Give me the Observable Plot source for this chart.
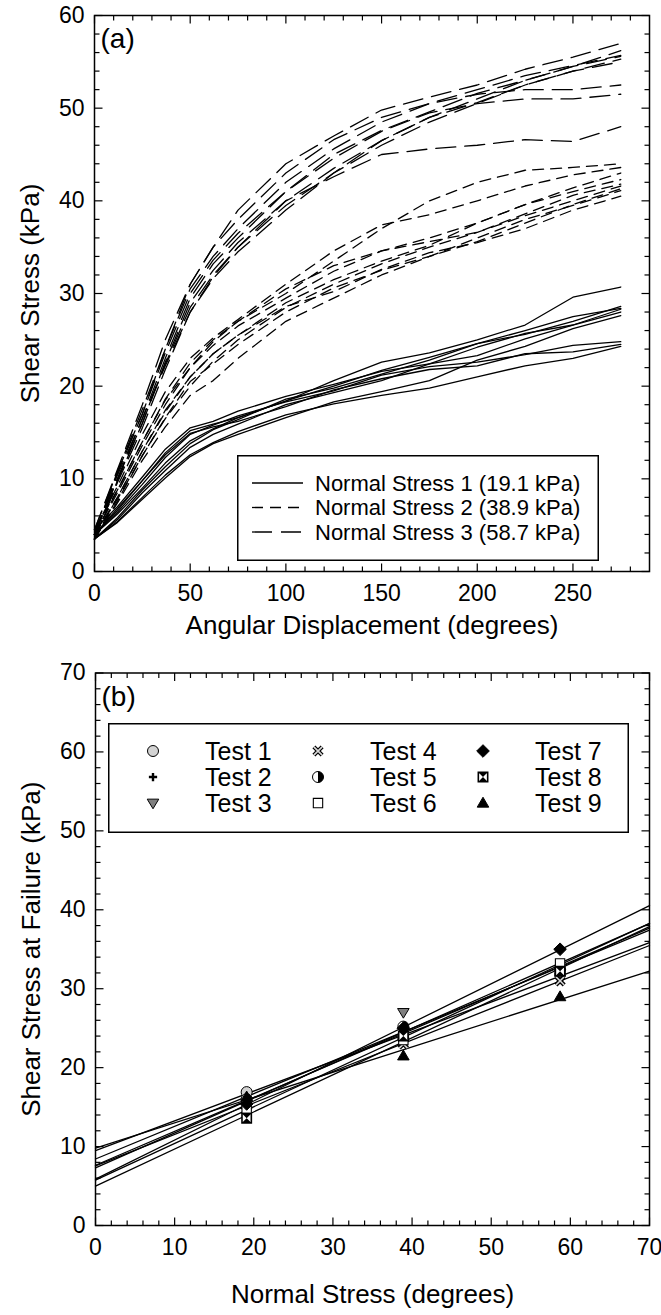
<!DOCTYPE html>
<html><head><meta charset="utf-8">
<script src="https://cdn.jsdelivr.net/npm/d3@7"></script>
<script src="https://cdn.jsdelivr.net/npm/@observablehq/plot@0.6"></script>
<style>
body{margin:0;background:#fff;}
#wrap{position:relative;width:661px;height:1315px;font-family:"Liberation Sans",Arial,sans-serif;overflow:hidden;}
#wrap svg.plot{display:block;}
.ov{position:absolute;}
</style></head><body><div id="wrap"></div>
<script>
// ---------- Panel (a) data ----------
const angle = [0, 12, 25, 37, 50, 62, 75, 100, 125, 150, 175, 200, 225, 250, 275];
const ns1Label = "Normal Stress 1 (19.1 kPa)";
const ns2Label = "Normal Stress 2 (38.9 kPa)";
const ns3Label = "Normal Stress 3 (58.7 kPa)";
const ns1 = [
  [4.0, 6.8, 9.8, 12.8, 15.2, 15.9, 16.6, 18.4, 20.6, 22.6, 23.6, 25.0, 26.6, 29.6, 30.7],
  [3.5, 5.8, 8.8, 11.3, 13.8, 15.3, 16.4, 18.6, 19.8, 21.3, 22.8, 24.6, 25.6, 27.0, 28.6],
  [4.5, 7.0, 10.2, 13.2, 15.5, 16.2, 17.3, 18.9, 20.2, 21.6, 22.4, 23.3, 25.1, 26.6, 28.3],
  [3.5, 5.6, 8.5, 10.9, 13.4, 14.8, 15.9, 18.0, 19.3, 20.6, 22.4, 24.2, 25.7, 26.6, 28.0],
  [4.0, 6.4, 9.4, 12.3, 14.8, 15.8, 16.8, 18.3, 19.5, 21.2, 22.1, 22.6, 23.4, 24.4, 24.8],
  [3.5, 5.4, 8.0, 10.4, 12.6, 13.9, 15.1, 16.9, 18.1, 19.0, 19.8, 21.0, 22.2, 23.0, 24.3],
  [4.0, 6.6, 9.8, 12.6, 14.9, 15.6, 16.2, 17.8, 19.6, 20.8, 21.8, 22.2, 23.5, 23.7, 24.5],
  [3.5, 5.3, 7.8, 10.1, 12.4, 13.8, 14.8, 16.6, 18.3, 19.4, 20.6, 22.8, 24.3, 26.2, 27.6],
  [4.0, 6.2, 9.0, 11.7, 14.1, 15.4, 16.6, 18.4, 20.0, 21.7, 23.1, 24.6, 26.0, 27.5, 28.4]
];
const ns2 = [
  [4.0, 8.8, 14.0, 18.5, 22.0, 24.8, 27.0, 30.0, 33.5, 37.0, 40.0, 42.0, 43.3, 43.6, 44.0],
  [4.5, 9.2, 14.8, 19.4, 23.0, 25.2, 27.2, 31.0, 34.6, 37.4, 38.5, 40.0, 41.6, 42.8, 43.6],
  [3.5, 8.0, 13.0, 17.4, 21.0, 23.5, 25.5, 29.0, 31.5, 33.5, 35.2, 37.6, 39.6, 41.4, 43.0],
  [4.0, 8.5, 13.6, 18.0, 22.0, 24.4, 26.5, 29.5, 32.4, 34.6, 35.6, 36.6, 38.6, 40.6, 41.8],
  [4.0, 7.8, 12.5, 16.5, 20.0, 22.7, 25.0, 28.5, 31.0, 33.2, 35.0, 36.6, 38.4, 40.0, 41.6],
  [3.5, 7.4, 12.0, 15.6, 19.0, 20.6, 23.0, 27.0, 29.5, 32.0, 34.0, 36.0, 38.0, 39.5, 41.1],
  [4.0, 8.0, 13.0, 17.2, 21.0, 23.5, 25.5, 28.6, 30.2, 32.6, 34.4, 35.5, 37.0, 39.0, 40.5],
  [4.5, 8.8, 14.0, 18.6, 22.5, 25.0, 27.0, 30.5, 33.0, 34.6, 36.0, 37.6, 39.6, 41.0, 42.3],
  [3.5, 7.6, 12.5, 16.6, 20.5, 22.4, 24.5, 28.0, 30.6, 32.5, 34.0, 35.6, 37.6, 39.6, 41.3]
];
const ns3 = [
  [4.5, 11.0, 18.0, 25.0, 31.0, 35.0, 39.0, 44.0, 47.0, 49.8, 51.2, 52.5, 54.2, 55.5, 57.0],
  [4.0, 10.6, 17.0, 23.6, 30.0, 33.6, 36.5, 41.0, 45.0, 47.6, 49.6, 51.6, 53.0, 54.5, 56.2],
  [4.0, 10.8, 17.5, 24.0, 30.5, 34.0, 37.0, 42.0, 45.6, 48.5, 50.5, 52.0, 53.5, 54.6, 55.7],
  [3.5, 9.8, 16.0, 22.6, 29.0, 32.5, 35.5, 40.0, 43.5, 46.5, 49.0, 50.6, 52.5, 54.0, 55.3],
  [4.0, 10.0, 16.5, 22.2, 28.0, 31.8, 35.0, 39.5, 43.0, 46.0, 48.5, 50.5, 52.5, 54.0, 55.0],
  [4.5, 10.8, 17.0, 24.0, 31.0, 35.0, 38.0, 43.0, 46.6, 49.0, 50.5, 51.5, 52.0, 52.0, 52.5],
  [4.0, 10.4, 16.5, 23.0, 29.5, 33.2, 36.0, 41.0, 44.6, 47.5, 49.5, 50.5, 51.0, 51.0, 51.5],
  [4.0, 10.0, 16.0, 22.4, 28.5, 32.0, 35.0, 40.0, 42.6, 45.0, 45.6, 46.0, 46.6, 46.4, 48.0],
  [3.5, 9.6, 15.5, 21.8, 28.0, 31.6, 34.5, 39.0, 43.0, 46.5, 49.0, 51.0, 53.0, 54.5, 55.6]
];

// ---------- Panel (b) data ----------
const normalStress = [19.1, 38.9, 58.7];
const testNames = ["Test 1","Test 2","Test 3","Test 4","Test 5","Test 6","Test 7","Test 8","Test 9"];
const failureStress = [
  [16.9, 23.7, 31.8],
  [15.5, 25.0, 32.5],
  [14.5, 27.0, 32.0],
  [15.2, 23.0, 31.0],
  [16.0, 25.2, 32.4],
  [14.8, 23.5, 33.2],
  [15.4, 25.0, 35.0],
  [13.6, 24.0, 32.2],
  [16.3, 21.5, 29.0]
];
const fitRange = [0, 70];

// ---------- helpers ----------
const FONT = '"Liberation Sans", Arial, sans-serif';
function rng(a, b, s) { const r = []; for (let v = a; v <= b + 1e-9; v += s) r.push(+v.toFixed(6)); return r; }
const tickSym = (dx, dy) => ({draw(ctx) { ctx.moveTo(0, 0); ctx.lineTo(dx, dy); }});
function frameTicks(xMaj, xMin, yMaj, yMin) {
  const M = 8, m = 5, o = {stroke: "black", fill: "none", strokeWidth: 1.2};
  return [
    Plot.dot(xMaj, {x: d => d, frameAnchor: "bottom", symbol: tickSym(0, -M), ...o}),
    Plot.dot(xMin, {x: d => d, frameAnchor: "bottom", symbol: tickSym(0, -m), ...o}),
    Plot.dot(xMaj, {x: d => d, frameAnchor: "top", symbol: tickSym(0, M), ...o}),
    Plot.dot(xMin, {x: d => d, frameAnchor: "top", symbol: tickSym(0, m), ...o}),
    Plot.dot(yMaj, {y: d => d, frameAnchor: "left", symbol: tickSym(M, 0), ...o}),
    Plot.dot(yMin, {y: d => d, frameAnchor: "left", symbol: tickSym(m, 0), ...o}),
    Plot.dot(yMaj, {y: d => d, frameAnchor: "right", symbol: tickSym(-M, 0), ...o}),
    Plot.dot(yMin, {y: d => d, frameAnchor: "right", symbol: tickSym(-m, 0), ...o})
  ];
}
const wrap = document.getElementById("wrap");
const TICK_FS = "23px", TITLE_FS = 26;

// ---------- Panel (a) ----------
function curves(set, group) {
  const out = [];
  set.forEach((vals, i) => vals.forEach((v, j) => out.push({group, id: group + i, x: angle[j], y: v})));
  return out;
}
const A_W = 661, A_H = 655;
const ax = {domain: [0, 290], maj: rng(0, 250, 50)};
const ay = {domain: [0, 60], maj: rng(0, 60, 10)};
const axMin = rng(0, 280, 10).filter(v => v % 50 !== 0);
const ayMin = rng(0, 60, 2).filter(v => v % 10 !== 0);
const lineOpt = {x: "x", y: "y", z: "id", stroke: "black", strokeWidth: 1.3};

const plotA = Plot.plot({
  width: A_W, height: A_H,
  marginTop: 15, marginBottom: 84, marginLeft: 94, marginRight: 12,
  style: {fontFamily: FONT, fontSize: TICK_FS, color: "black", background: "white"},
  x: {domain: ax.domain, ticks: ax.maj, tickSize: 0, tickPadding: 13, label: null},
  y: {domain: ay.domain, ticks: ay.maj, tickSize: 0, tickPadding: 10, label: null},
  marks: [
    Plot.line(curves(ns1, "a"), {...lineOpt}),
    Plot.line(curves(ns2, "b"), {...lineOpt, strokeDasharray: "11,7"}),
    Plot.line(curves(ns3, "c"), {...lineOpt, strokeDasharray: "20,9"}),
    ...frameTicks(ax.maj, axMin, ay.maj, ayMin),
    Plot.frame({stroke: "black", strokeWidth: 1.5}),
    Plot.text(["(a)"], {frameAnchor: "top-left", text: d => d, dx: 6, dy: 24, textAnchor: "start", lineAnchor: "middle", fontSize: 28}),
    Plot.text(["Angular Displacement (degrees)"], {frameAnchor: "bottom", text: d => d, dy: 54, textAnchor: "middle", lineAnchor: "middle", fontSize: TITLE_FS}),
    Plot.text(["Shear Stress (kPa)"], {frameAnchor: "left", text: d => d, dx: -64, rotate: -90, textAnchor: "middle", lineAnchor: "middle", fontSize: TITLE_FS})
  ]
});
wrap.appendChild(plotA);

// legend (a)
(function () {
  const L = {x: 237, y: 455, w: 362, h: 106};
  const svg = d3.select(wrap).append("svg").attr("class", "ov")
    .style("left", L.x + "px").style("top", L.y + "px")
    .attr("width", L.w).attr("height", L.h);
  svg.append("rect").attr("x", 0.75).attr("y", 0.75).attr("width", L.w - 1.5).attr("height", L.h - 1.5)
    .attr("fill", "white").attr("stroke", "black").attr("stroke-width", 1.5);
  const items = [[ns1Label, null], [ns2Label, "11,7"], [ns3Label, "20,9"]];
  items.forEach(([t, dash], i) => {
    const cy = 28 + i * 24.5;
    svg.append("line").attr("x1", 15).attr("x2", 66).attr("y1", cy).attr("y2", cy)
      .attr("stroke", "black").attr("stroke-width", 1.3).attr("stroke-dasharray", dash);
    svg.append("text").attr("x", 78).attr("y", cy).attr("dy", "0.35em")
      .attr("font-family", FONT).attr("font-size", 22).text(t);
  });
})();

// ---------- Panel (b) ----------
const B_H = 660;
const bx = {domain: [0, 70], maj: rng(0, 70, 10)};
const by = {domain: [0, 70], maj: rng(0, 70, 10)};
const bxMin = rng(0, 70, 2).filter(v => v % 10 !== 0);
const byMin = rng(0, 70, 2).filter(v => v % 10 !== 0);

const pts = [];
failureStress.forEach((vals, t) => vals.forEach((v, j) => pts.push({test: t, x: normalStress[j], y: v})));
const fits = [];
failureStress.forEach((vals, t) => {
  const mx = d3.mean(normalStress), my = d3.mean(vals);
  const b = d3.sum(normalStress, (x, j) => (x - mx) * (vals[j] - my)) / d3.sum(normalStress, x => (x - mx) ** 2);
  const a = my - b * mx;
  fitRange.forEach(x => fits.push({test: t, x, y: a + b * x}));
});

// symbols
const triDown = {draw(c, s) { const r = Math.sqrt(s / Math.PI); c.moveTo(-r * 1.05, -r * 0.7); c.lineTo(r * 1.05, -r * 0.7); c.lineTo(0, r * 1.05); c.closePath(); }};
const triUp = {draw(c, s) { const r = Math.sqrt(s / Math.PI); c.moveTo(-r * 1.05, r * 0.75); c.lineTo(r * 1.05, r * 0.75); c.lineTo(0, -r * 1.05); c.closePath(); }};
const squareS = {draw(c, s) { const r = Math.sqrt(s / Math.PI) * 0.85; c.rect(-r, -r, 2 * r, 2 * r); }};
const hourglass = {draw(c, s) { const r = Math.sqrt(s / Math.PI) * 0.85; c.moveTo(-r, -r); c.lineTo(r, -r); c.lineTo(0, 0); c.closePath(); c.moveTo(-r, r); c.lineTo(r, r); c.lineTo(0, 0); c.closePath(); }};
const halfRight = {draw(c, s) { const r = Math.sqrt(s / Math.PI); c.moveTo(0, -r); c.arc(0, 0, r, -Math.PI / 2, Math.PI / 2); c.closePath(); }};
const plusS = {draw(c, s) { const r = Math.sqrt(s / Math.PI) * 0.75; c.moveTo(-r, 0); c.lineTo(r, 0); c.moveTo(0, -r); c.lineTo(0, r); }};
const crossS = {draw(c, s) { const r = Math.sqrt(s / Math.PI) * 0.75; c.moveTo(-r, -r); c.lineTo(r, r); c.moveTo(-r, r); c.lineTo(r, -r); }};
const diamondS = {draw(c, s) { const r = Math.sqrt(s / Math.PI) * 1.15; c.moveTo(0, -r); c.lineTo(r, 0); c.lineTo(0, r); c.lineTo(-r, 0); c.closePath(); }};

// layers per test: [symbol, fill, stroke, strokeWidth]
const R = 5.5;
const testStyles = [
  [[d3.symbolCircle, "#d3d3d3", "black", 1]],
  [[plusS, "none", "black", 2.4]],
  [[triDown, "#808080", "black", 1]],
  [[crossS, "none", "black", 4.2], [crossS, "none", "#d8d8d8", 1.6]],
  [[d3.symbolCircle, "white", "black", 1], [halfRight, "black", "none", 0]],
  [[squareS, "white", "black", 1.1]],
  [[diamondS, "black", "black", 1]],
  [[squareS, "white", "black", 1.6], [hourglass, "black", "none", 0]],
  [[triUp, "black", "black", 1]]
];
const pointMarks = [];
testStyles.forEach((layers, t) => layers.forEach(([sym, fill, stroke, sw]) => {
  pointMarks.push(Plot.dot(pts.filter(d => d.test === t), {x: "x", y: "y", r: R, symbol: sym, fill, stroke, strokeWidth: sw}));
}));

const plotB = Plot.plot({
  width: A_W, height: B_H,
  marginTop: 17.5, marginBottom: 90, marginLeft: 95, marginRight: 12,
  style: {fontFamily: FONT, fontSize: TICK_FS, color: "black", background: "white"},
  x: {domain: bx.domain, ticks: bx.maj, tickSize: 0, tickPadding: 13, label: null},
  y: {domain: by.domain, ticks: by.maj, tickSize: 0, tickPadding: 10, label: null},
  marks: [
    Plot.line(fits, {x: "x", y: "y", z: "test", stroke: "black", strokeWidth: 1.3}),
    ...pointMarks,
    ...frameTicks(bx.maj, bxMin, by.maj, byMin),
    Plot.frame({stroke: "black", strokeWidth: 1.5}),
    Plot.text(["(b)"], {frameAnchor: "top-left", text: d => d, dx: 6, dy: 24, textAnchor: "start", lineAnchor: "middle", fontSize: 28}),
    Plot.text(["Normal Stress (degrees)"], {frameAnchor: "bottom", text: d => d, dy: 69, textAnchor: "middle", lineAnchor: "middle", fontSize: TITLE_FS}),
    Plot.text(["Shear Stress at Failure (kPa)"], {frameAnchor: "left", text: d => d, dx: -64, rotate: -90, textAnchor: "middle", lineAnchor: "middle", fontSize: TITLE_FS})
  ]
});
wrap.appendChild(plotB);

// legend (b)
(function () {
  const L = {x: 108, y: 723, w: 521, h: 110};
  const svg = d3.select(wrap).append("svg").attr("class", "ov")
    .style("left", L.x + "px").style("top", L.y + "px")
    .attr("width", L.w).attr("height", L.h);
  svg.append("rect").attr("x", 0.75).attr("y", 0.75).attr("width", L.w - 1.5).attr("height", L.h - 1.5)
    .attr("fill", "white").attr("stroke", "black").attr("stroke-width", 1.5);
  const colX = [45, 210, 375];
  testNames.forEach((name, t) => {
    const col = Math.floor(t / 3), row = t % 3;
    const cx = colX[col], cy = 28 + row * 26;
    testStyles[t].forEach(([sym, fill, stroke, sw]) => {
      svg.append("path").attr("transform", `translate(${cx},${cy})`)
        .attr("d", d3.symbol(sym, Math.PI * R * R)())
        .attr("fill", fill).attr("stroke", stroke).attr("stroke-width", sw);
    });
    svg.append("text").attr("x", cx + 52).attr("y", cy).attr("dy", "0.35em")
      .attr("font-family", FONT).attr("font-size", 25).text(name);
  });
})();
</script></body></html>
